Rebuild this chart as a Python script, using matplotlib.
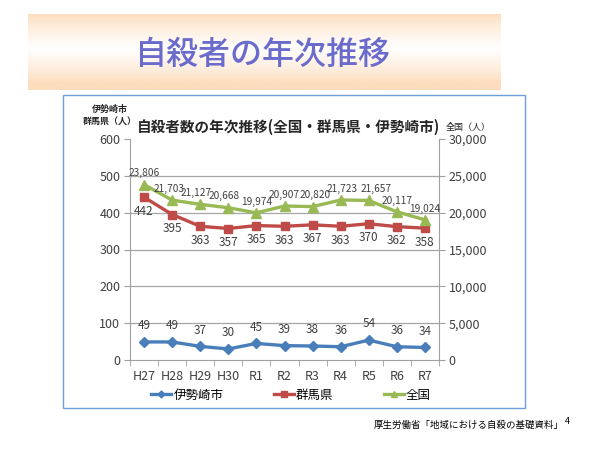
import matplotlib
matplotlib.use("Agg")
import matplotlib.pyplot as plt
import numpy as np
from matplotlib.patches import Rectangle

plt.rcParams['font.family'] = ['Noto Sans CJK JP', 'DejaVu Sans']

categories = ["H27", "H28", "H29", "H30", "R1", "R2", "R3", "R4", "R5", "R6", "R7"]
isesaki = [49, 49, 37, 30, 45, 39, 38, 36, 54, 36, 34]
gunma = [442, 395, 363, 357, 365, 363, 367, 363, 370, 362, 358]
zenkoku = [23806, 21703, 21127, 20668, 19974, 20907, 20820, 21723, 21657, 20117, 19024]
left_ticks = [0, 100, 200, 300, 400, 500, 600]
right_ticks = [0, 5000, 10000, 15000, 20000, 25000, 30000]

# small horizontal nudges (points) for national data labels, as in the original
zen_label_dx = {1: -2, 2: -3, 3: -3, 6: 1.5, 7: 1, 8: 5}

W, H = 600, 449
fig = plt.figure(figsize=(6, 4.49), dpi=100)
fig.patch.set_facecolor('white')

def fx(x):
    return x / W

def fy(y):
    return 1 - y / H

# Chart box (behind everything)
fig.patches.append(Rectangle((fx(63), fy(408)), fx(525 - 63), (408 - 95) / H,
                             transform=fig.transFigure, facecolor='white',
                             edgecolor='#6F9FD6', linewidth=1.0, zorder=-5))

# Title banner with vertical gradient
bax = fig.add_axes([fx(28), fy(90), fx(501 - 28), (90 - 14) / H])
t = np.linspace(0, 1, 200)
peach = np.array([253, 221, 190]) / 255.0
white = np.array([1.0, 1.0, 1.0])
w = np.clip(1 - np.abs(t - 0.45) / 0.45, 0, 1) ** 0.8
grad = peach[None, :] * (1 - w[:, None]) + white[None, :] * w[:, None]
bax.imshow(grad[:, None, :], aspect='auto', extent=[0, 1, 0, 1])
bax.axis('off')
fig.text(fx(262), fy(55), "自殺者の年次推移", fontsize=23, color='#6B6BCB',
         ha='center', va='center', fontweight='medium')

ax = fig.add_axes([fx(130), fy(360), fx(439 - 130), (360 - 139) / H])
ax.set_facecolor('none')
x = np.arange(len(categories))
ax.set_xlim(-0.5, len(categories) - 0.5)
ax.set_ylim(0, 600)
ax.set_yticks(left_ticks)
ax.set_yticklabels([str(v) for v in left_ticks], fontsize=9, color='#404040')
for v in left_ticks[1:-1]:
    ax.axhline(v, color='#A6A6A6', linewidth=0.9, zorder=1)
ax.set_xticks(x)
ax.set_xticklabels(categories, fontsize=9, color='#404040')
ax.set_xticks(np.arange(-0.5, len(categories), 1), minor=True)
ax.tick_params(axis='x', which='major', length=0, pad=7)
ax.tick_params(axis='x', which='minor', length=4, color='#A0A0A0')
ax.tick_params(axis='y', length=4, color='#A0A0A0', pad=3)
for s in ['top', 'right']:
    ax.spines[s].set_visible(False)
for s in ['left', 'bottom']:
    ax.spines[s].set_color('#A0A0A0')

ax2 = ax.twinx()
ax2.set_ylim(0, 30000)
ax2.set_yticks(right_ticks)
ax2.set_yticklabels([f"{v:,}" for v in right_ticks], fontsize=9, color='#404040')
ax2.tick_params(axis='y', length=4, color='#A0A0A0', pad=3)
for s in ['top', 'left', 'bottom']:
    ax2.spines[s].set_visible(False)
ax2.spines['right'].set_color('#A0A0A0')

blue = '#4A7EBB'
red = '#BE4B48'
green = '#98B954'

l1, = ax.plot(x, isesaki, color=blue, lw=2.4, marker='D', ms=5, zorder=3, label='伊勢崎市')
l2, = ax.plot(x, gunma, color=red, lw=2.4, marker='s', ms=6, zorder=3, label='群馬県')
l3, = ax2.plot(x, zenkoku, color=green, lw=2.4, marker='^', ms=7, zorder=3, label='全国')

for xi, v in zip(x, isesaki):
    ax.annotate(str(v), (xi, v), xytext=(0, 7), textcoords='offset points',
                ha='center', va='bottom', fontsize=8.5, color='#404040')
for xi, v in zip(x, gunma):
    ax.annotate(str(v), (xi, v), xytext=(0, -5.5), textcoords='offset points',
                ha='center', va='top', fontsize=8.5, color='#404040')
for i, (xi, v) in enumerate(zip(x, zenkoku)):
    ax2.annotate(f"{v:,}", (xi, v), xytext=(zen_label_dx.get(i, 0), 4.5),
                 textcoords='offset points',
                 ha='center', va='bottom', fontsize=7.3, color='#404040')

fig.text(fx(289), fy(127), "自殺者数の年次推移(全国・群馬県・伊勢崎市)", fontsize=10.5,
         fontweight='bold', ha='center', va='center', color='#262626')
fig.text(fx(110), fy(109), "伊勢崎市", fontsize=6.5, fontweight='bold',
         ha='center', va='center', color='#262626')
fig.text(fx(110), fy(121), "群馬県（人）", fontsize=6.5, fontweight='bold',
         ha='center', va='center', color='#262626')
fig.text(fx(468), fy(127), "全国（人）", fontsize=6.5,
         ha='center', va='center', color='#262626')

fig.legend(handles=[l1, l2, l3], loc='center', bbox_to_anchor=(fx(291), fy(395)),
           ncol=3, frameon=False, fontsize=9, handlelength=1.6, handletextpad=0.2,
           columnspacing=4.0, markerscale=0.7)

fig.text(fx(374), fy(425), "厚生労働省「地域における自殺の基礎資料」", fontsize=6.8,
         ha='left', va='center', color='black')
fig.text(fx(565), fy(421), "4", fontsize=6.5, ha='left', va='center', color='black')

fig.savefig("out.png", dpi=100, facecolor='white')
